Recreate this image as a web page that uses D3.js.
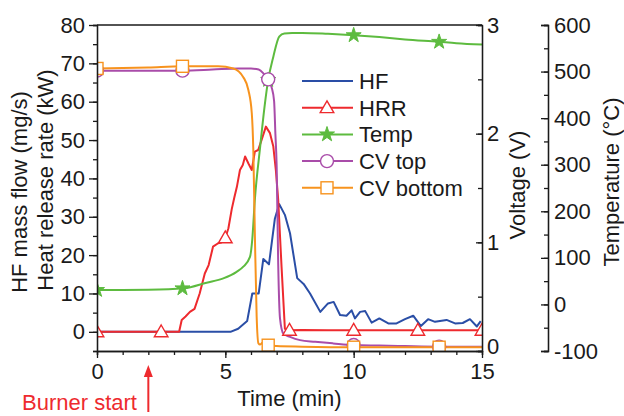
<!DOCTYPE html>
<html>
<head>
<meta charset="utf-8">
<script src="https://cdn.jsdelivr.net/npm/d3@7"></script>
<style>
  body { margin: 0; background: #fff; }
  text { font-family: "Liberation Sans", Arial, sans-serif; fill: #1a1a1a; }
</style>
</head>
<body>
<div id="chart"></div>
<script>
// HF mass flow (mg/s), left axis
const hfTime = [0, 5.2, 5.5, 5.85, 6.05, 6.3, 6.48, 6.7, 6.93, 7.1, 7.32, 7.52, 7.8, 8.05, 8.3, 8.7, 9.0, 9.22, 9.47, 9.72, 9.92, 10.05, 10.25, 10.45, 10.7, 11.0, 11.35, 11.67, 12.0, 12.32, 12.62, 12.9, 13.17, 13.62, 13.95, 14.25, 14.53, 14.8, 14.95];
const hfValue = [0, 0, 0.8, 2.8, 10, 10, 19, 17.6, 29.5, 33.3, 30.5, 25.7, 14, 12.5, 10, 5.2, 7.4, 7.8, 4.4, 4.2, 5.6, 3.5, 5.2, 5.4, 2.4, 3.5, 2.2, 2.2, 3.3, 4.2, 1.5, 3.3, 2.6, 3.1, 2.2, 2.3, 3.3, 1.4, 2.8];

// heat release rate (kW), left axis
const hrrTime = [0, 3.2, 3.3, 3.45, 3.62, 3.8, 4.0, 4.2, 4.35, 4.52, 4.72, 4.85, 5.0, 5.12, 5.25, 5.35, 5.45, 5.57, 5.68, 5.77, 5.9, 6.03, 6.15, 6.28, 6.41, 6.58, 6.74, 6.87, 6.97, 7.06, 7.19, 7.32, 7.45, 8, 9, 10, 11, 12, 13, 14, 15];
const hrrValue = [0, 0, 3.1, 4, 5.2, 6, 10, 15.2, 17.4, 22.2, 23.1, 23.3, 24.5, 27, 32, 35, 37.8, 42.2, 43.5, 45.7, 43.9, 42.2, 47, 47.4, 50, 53.5, 51.8, 48.3, 42, 34.4, 17, 0.8, 0.4, 0.5, 0.4, 0.4, 0.4, 0.4, 0.4, 0.4, 0.4];

// temperature (°C), far right axis
const tempTime = [0, 1, 2, 3.39, 4.27, 4.92, 5.44, 5.7, 5.96, 6.05, 6.15, 6.35, 6.54, 6.67, 6.87, 7.1, 7.3, 7.6, 8, 9, 10, 11, 12, 13.3, 14, 15];
const tempValue = [31, 31, 31.5, 34.7, 46.7, 56, 70, 81, 102, 140, 225, 335, 430, 482, 532, 575, 582, 583, 583, 581, 578, 574, 569, 564, 561, 558];

// CV sensors (V), right axis
const cvTopTime = [0, 2, 3.33, 4.5, 5.5, 6.0, 6.3, 6.5, 6.67, 6.8, 6.9, 6.95, 7.0, 7.06, 7.13, 7.26, 7.52, 7.91, 8.5, 9.2, 10, 11, 12, 13.33, 15];
const cvTopValue = [2.58, 2.58, 2.58, 2.59, 2.6, 2.6, 2.59, 2.55, 2.5, 2.43, 2.3, 2.0, 1.7, 0.8, 0.3, 0.16, 0.13, 0.1, 0.085, 0.07, 0.055, 0.05, 0.045, 0.04, 0.04];
const cvBotTime = [0, 2, 3.33, 4.72, 5.31, 5.7, 5.9, 6.03, 6.09, 6.15, 6.22, 6.29, 6.35, 6.45, 6.6, 7, 8, 10, 12, 15];
const cvBotValue = [2.6, 2.61, 2.62, 2.62, 2.6, 2.52, 2.4, 2.19, 1.85, 1.08, 0.32, 0.07, 0.06, 0.075, 0.055, 0.045, 0.04, 0.035, 0.035, 0.035];

// marker times
const hrrMarks = [0, 2.5, 5, 7.5, 10, 12.5, 15];
const thirdMarks = [0, 3.33, 6.67, 10, 13.33];

// ticks
const xTicks = [0, 5, 10, 15];
const leftTicks = [0, 10, 20, 30, 40, 50, 60, 70, 80];
const voltTicks = [0, 1, 2, 3];
const tempTicks = [-100, 0, 100, 200, 300, 400, 500, 600];

const width = 624, height = 416;
const plot = { left: 97, right: 482, top: 25, bottom: 351 };

const svg = d3.select('#chart').append('svg')
  .attr('width', width)
  .attr('height', height);

const x = d3.scaleLinear().domain([0, 15]).range([plot.left, plot.right]);
const yLeft = d3.scaleLinear().domain([-5, 80]).range([plot.bottom, plot.top]);
const yVolt = d3.scaleLinear().domain([0, 3]).range([plot.bottom, plot.top]);
const yTemp = d3.scaleLinear().domain([-100, 600]).range([plot.bottom, plot.top]);

svg.append('clipPath').attr('id', 'clip')
  .append('rect')
  .attr('x', plot.left).attr('y', plot.top)
  .attr('width', plot.right - plot.left).attr('height', plot.bottom - plot.top);

// linear lookup used to place markers on the curves
function valueAt(ts, vs, t) {
  const i = d3.bisectLeft(ts, t);
  if (i <= 0) return vs[0];
  if (i >= ts.length) return vs[vs.length - 1];
  const f = (t - ts[i - 1]) / (ts[i] - ts[i - 1]);
  return vs[i - 1] + f * (vs[i] - vs[i - 1]);
}

const series = [
  { name: 'HF', color: '#2a4ea6', ts: hfTime, vs: hfValue, y: yLeft, curve: d3.curveLinear, marks: [], symbol: null },
  { name: 'HRR', color: '#ee2a2e', ts: hrrTime, vs: hrrValue, y: yLeft, curve: d3.curveLinear, marks: hrrMarks, symbol: 'triangle' },
  { name: 'Temp', color: '#5dbb3f', ts: tempTime, vs: tempValue, y: yTemp, curve: d3.curveMonotoneX, marks: thirdMarks, symbol: 'star' },
  { name: 'CV top', color: '#a94ca9', ts: cvTopTime, vs: cvTopValue, y: yVolt, curve: d3.curveMonotoneX, marks: thirdMarks, symbol: 'circle' },
  { name: 'CV bottom', color: '#f7931e', ts: cvBotTime, vs: cvBotValue, y: yVolt, curve: d3.curveMonotoneX, marks: thirdMarks, symbol: 'square' }
];

function drawMarker(g, type, color) {
  if (type === 'triangle') {
    g.append('path').attr('d', d3.symbol(d3.symbolTriangle, 80)())
      .attr('transform', 'translate(0,1)')
      .attr('fill', '#fff').attr('stroke', color).attr('stroke-width', 1.4);
  } else if (type === 'star') {
    g.append('path').attr('d', d3.symbol(d3.symbolStar, 70)())
      .attr('fill', color).attr('stroke', color).attr('stroke-width', 1);
  } else if (type === 'circle') {
    g.append('circle').attr('r', 6.5)
      .attr('fill', '#fff').attr('stroke', color).attr('stroke-width', 1.4);
  } else if (type === 'square') {
    g.append('rect').attr('x', -6).attr('y', -6).attr('width', 12).attr('height', 12)
      .attr('fill', '#fff').attr('stroke', color).attr('stroke-width', 1.4);
  }
}

const plotArea = svg.append('g').attr('clip-path', 'url(#clip)');

series.forEach(s => {
  const line = d3.line()
    .x(i => x(s.ts[i]))
    .y(i => s.y(s.vs[i]))
    .curve(s.curve);
  plotArea.append('path')
    .attr('d', line(d3.range(s.ts.length)))
    .attr('fill', 'none')
    .attr('stroke', s.color)
    .attr('stroke-width', 2)
    .attr('stroke-linejoin', 'round');
});

series.forEach(s => {
  s.marks.forEach(t => {
    const g = plotArea.append('g')
      .attr('transform', `translate(${x(t)},${s.y(valueAt(s.ts, s.vs, t))})`);
    drawMarker(g, s.symbol, s.color);
  });
});

// axes
const fontSize = 22;
const plain = d => String(d);
function styleAxis(g) {
  g.selectAll('path, line').attr('stroke', '#1a1a1a').attr('stroke-width', 1.3);
  g.selectAll('text').attr('font-size', fontSize).attr('fill', '#1a1a1a')
    .style('font-family', '"Liberation Sans", Arial, sans-serif');
}

// minor ticks first
svg.append('g').attr('transform', `translate(0,${plot.bottom})`)
  .call(d3.axisBottom(x).tickValues(d3.range(0, 16, 1)).tickSize(4).tickFormat(''))
  .call(styleAxis);
svg.append('g').attr('transform', `translate(${plot.left},0)`)
  .call(d3.axisLeft(yLeft).tickValues(d3.range(-5, 81, 5)).tickSize(4).tickFormat(''))
  .call(styleAxis);
svg.append('g').attr('transform', `translate(${plot.right},0)`)
  .call(d3.axisRight(yVolt).tickValues(d3.range(0, 3.01, 0.5)).tickSize(-4).tickFormat(''))
  .call(styleAxis);

svg.append('g').attr('transform', `translate(0,${plot.bottom})`)
  .call(d3.axisBottom(x).tickValues(xTicks).tickFormat(plain).tickSizeInner(7).tickSizeOuter(0).tickPadding(5))
  .call(styleAxis);
svg.append('g').attr('transform', `translate(${plot.left},0)`)
  .call(d3.axisLeft(yLeft).tickValues(leftTicks).tickFormat(plain).tickSizeInner(8).tickSizeOuter(0).tickPadding(4))
  .call(styleAxis);
svg.append('g').attr('transform', `translate(${plot.right},0)`)
  .call(d3.axisRight(yVolt).tickValues(voltTicks).tickFormat(plain).tickSizeInner(-6).tickSizeOuter(0).tickPadding(5))
  .call(styleAxis)
  .call(g => g.selectAll('text').filter(d => d === 0).attr('dy', '0.1em'));

// top frame line
svg.append('line')
  .attr('x1', plot.left).attr('x2', plot.right)
  .attr('y1', plot.top).attr('y2', plot.top)
  .attr('stroke', '#1a1a1a').attr('stroke-width', 1.3);

// separate temperature axis
const tempX = 548;
svg.append('g').attr('transform', `translate(${tempX},0)`)
  .call(d3.axisRight(yTemp).tickValues(d3.range(-100, 601, 50)).tickSize(-4).tickFormat(''))
  .call(styleAxis);
svg.append('g').attr('transform', `translate(${tempX},0)`)
  .call(d3.axisRight(yTemp).tickValues(tempTicks).tickFormat(plain).tickSizeInner(-7).tickSizeOuter(-7).tickPadding(6))
  .call(styleAxis);

// axis titles
svg.append('text')
  .attr('x', (plot.left + plot.right) / 2).attr('y', 406)
  .attr('text-anchor', 'middle').attr('font-size', fontSize)
  .text('Time (min)');
svg.append('text')
  .attr('transform', 'translate(27,192) rotate(-90)')
  .attr('text-anchor', 'middle').attr('font-size', fontSize)
  .text('HF mass flow (mg/s)');
svg.append('text')
  .attr('transform', 'translate(53,180) rotate(-90)')
  .attr('text-anchor', 'middle').attr('font-size', fontSize)
  .text('Heat release rate (kW)');
svg.append('text')
  .attr('transform', 'translate(525,185) rotate(-90)')
  .attr('text-anchor', 'middle').attr('font-size', fontSize)
  .text('Voltage (V)');
svg.append('text')
  .attr('transform', 'translate(619,182) rotate(-90)')
  .attr('text-anchor', 'middle').attr('font-size', fontSize)
  .text('Temperature (°C)');

// legend
const legend = svg.append('g');
series.forEach((s, i) => {
  const g = legend.append('g').attr('transform', `translate(302,${81 + i * 26.7})`);
  g.append('line').attr('x1', 0).attr('x2', 51)
    .attr('stroke', s.color).attr('stroke-width', 2);
  if (s.symbol) {
    const m = g.append('g').attr('transform', 'translate(25,0)');
    drawMarker(m, s.symbol, s.color);
  }
  g.append('text').attr('x', 57).attr('dy', '0.36em')
    .attr('font-size', fontSize).text(s.name);
});

// burner start annotation
const burnerTime = 2;
const red = '#ee2a2e';
svg.append('line')
  .attr('x1', x(burnerTime)).attr('x2', x(burnerTime))
  .attr('y1', 412).attr('y2', 374)
  .attr('stroke', red).attr('stroke-width', 2);
svg.append('path')
  .attr('d', d3.line()([[x(burnerTime), 365], [x(burnerTime) - 4.5, 377], [x(burnerTime) + 4.5, 377]]) + 'Z')
  .attr('fill', red);
svg.append('text')
  .attr('x', 22).attr('y', 410)
  .attr('font-size', fontSize)
  .style('fill', red)
  .text('Burner start');
</script>
</body>
</html>
